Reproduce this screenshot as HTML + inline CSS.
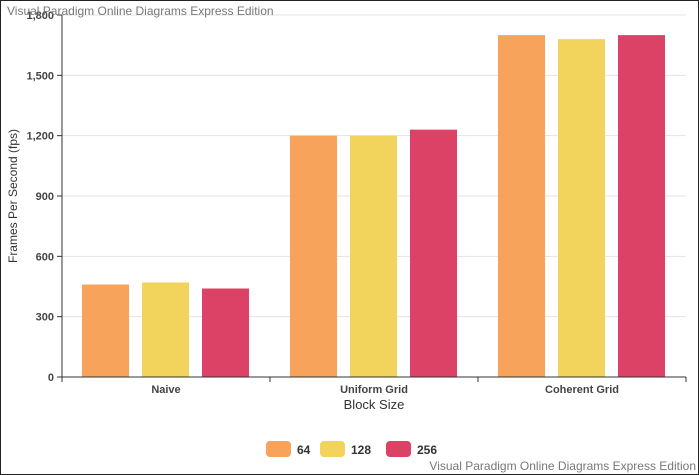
<!DOCTYPE html>
<html><head><style>
body{margin:0;background:#fff}
#wrap{position:relative;width:697px;height:473px;border:1px solid #222;overflow:hidden;font-family:"Liberation Sans",sans-serif}
.wm{position:absolute;color:#777;font-size:12px}
</style></head><body>
<div id="wrap">
<svg id="c" width="697" height="473" style="position:absolute;left:0;top:0"></svg>
<div class="wm" style="left:6px;top:3px">Visual Paradigm Online Diagrams Express Edition</div>
<div class="wm" style="right:2px;bottom:1px">Visual Paradigm Online Diagrams Express Edition</div>
</div>
<script>
const categories=["Naive","Uniform Grid","Coherent Grid"];
const seriesNames=["64","128","256"];
const s64=[460,1200,1700];
const s128=[470,1200,1680];
const s256=[440,1230,1700];
const yTicks=[0,300,600,900,1200,1500,1800];
const colors=["#f7a35c","#f2d35b","#dc4266"];
const series=[s64,s128,s256];
const NS="http://www.w3.org/2000/svg";
const svg=document.getElementById('c');
const X0=61,X1=685,Y0=376,Y1=14,YMAX=1800;
const y=v=>Y0-(v/YMAX)*(Y0-Y1);
const gw=(X1-X0)/categories.length;
function mk(t,a,txt){const e=document.createElementNS(NS,t);for(const k in a)e.setAttribute(k,a[k]);if(txt!==undefined)e.textContent=txt;svg.appendChild(e);return e;}
yTicks.forEach(t=>{
 if(t>0){const g=mk('line',{x1:X0,x2:X1,y1:y(t),y2:y(t),stroke:'#e3e3e3'});
 
 }
 const tk=mk('line',{x1:X0-5,x2:X0,y1:y(t),y2:y(t),stroke:'#333'});
 
 
 const l=mk('text',{x:X0-8,y:y(t)+4,'text-anchor':'end','font-size':11,'font-weight':'bold',fill:'#444'},t.toLocaleString('en-US'));
 
 
});
categories.forEach((c,i)=>{
 const gx=X0+i*gw;
 series.forEach((s,j)=>{
  const bx=gx+20+j*60;
  const r=mk('rect',{x:bx,y:y(s[i]),width:47,height:Y0-y(s[i]),fill:colors[j]});
  
  
 });
 const l=mk('text',{x:gx+gw/2,y:Y0+16,'text-anchor':'middle','font-size':11,'font-weight':'bold',fill:'#444'},c);
 
 
});
for(let i=0;i<=categories.length;i++){
 const tk=mk('line',{x1:X0+i*gw,x2:X0+i*gw,y1:Y0,y2:Y0+5,stroke:'#333'});
 
 
}
const ya=mk('line',{x1:X0,x2:X0,y1:Y1,y2:Y0,stroke:'#333'});


const xa=mk('line',{x1:X0,x2:X1,y1:Y0,y2:Y0,stroke:'#333'});


const xt=mk('text',{x:373,y:408,'text-anchor':'middle','font-size':13,fill:'#333'},'Block Size');


const yt=mk('text',{x:16,y:195,'text-anchor':'middle','font-size':12,fill:'#333',transform:'rotate(-90 16 195)'},'Frames Per Second (fps)');


const lx=[265,319,385];
seriesNames.forEach((n,j)=>{
 const r=mk('rect',{x:lx[j],y:440,width:25,height:16,rx:4,fill:colors[j]});
 
 
 const t=mk('text',{x:lx[j]+31,y:453,'font-size':12,'font-weight':'bold',fill:'#333'},n);
 
 
});
</script>
</body></html>
